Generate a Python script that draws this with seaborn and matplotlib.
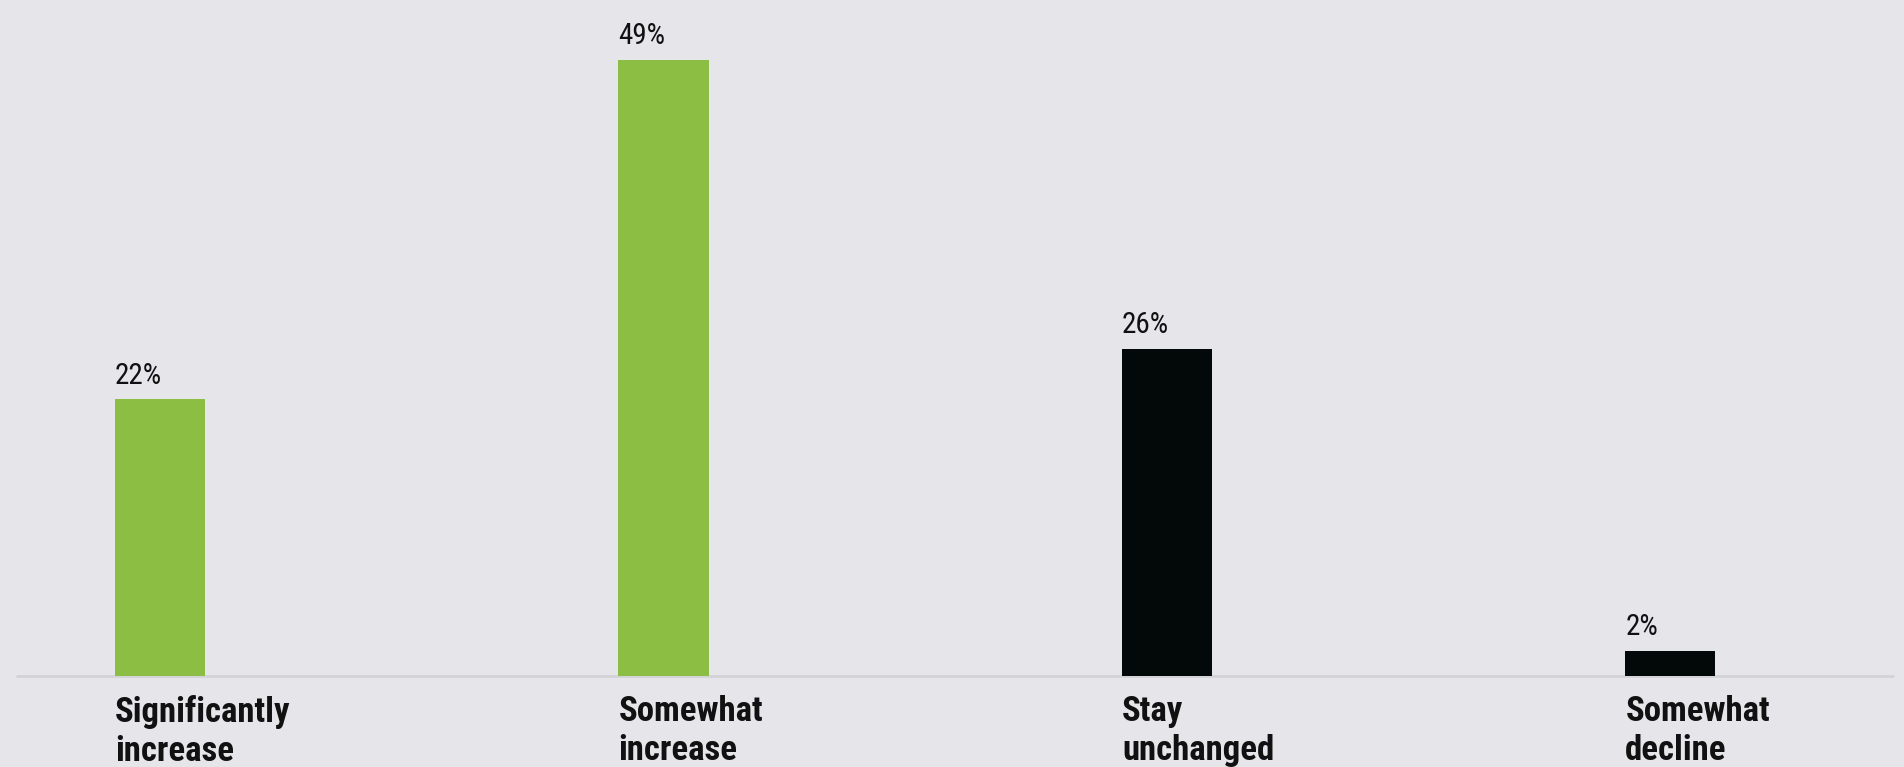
import matplotlib
matplotlib.use('Agg')
import matplotlib.pyplot as plt
from matplotlib import font_manager
import seaborn as sns
import pandas as pd

categories = ['Significantly\nincrease', 'Somewhat\nincrease', 'Stay\nunchanged', 'Somewhat\ndecline']
values = [22, 49, 26, 2]
bar_colors = ['#8bbe43', '#8bbe43', '#030808', '#030808']

BG = '#e6e5ea'

sns.set_theme(style='white')
names = {f.name for f in font_manager.fontManager.ttflist}
family = 'DejaVu Sans'
for cand in ['Roboto Condensed', 'Liberation Sans Narrow', 'Open Sans Condensed', 'DejaVu Sans']:
    if cand in names:
        family = cand
        break
plt.rcParams['font.family'] = [family, 'DejaVu Sans']

df = pd.DataFrame({'category': categories, 'value': values})

fig = plt.figure(figsize=(19.04, 7.67), dpi=100, facecolor=BG)
ax = fig.add_axes([0, 0, 1, 1])
ax.set_facecolor(BG)

sns.barplot(data=df, x='category', y='value', hue='category', palette=bar_colors,
            width=0.179, legend=False, ax=ax, saturation=1, linewidth=0)

ax.set_xlim(-0.318, 3.464)
ax.set_ylim(-7.23, 53.74)
ax.axhline(0, xmin=0.009, xmax=0.994, color='#d2d3d7', lw=2, zorder=0)

for i, (cat, val) in enumerate(zip(categories, values)):
    left = i - 0.179 / 2
    ax.annotate(f'{val}%', (left, val), xytext=(0, 7), textcoords='offset points',
                ha='left', va='bottom', fontsize=21, color='#111111',
                fontstretch='condensed')
    ax.annotate(cat, (left, 0), xytext=(0, -14), textcoords='offset points',
                ha='left', va='top', fontsize=25, fontweight='bold', color='#111111',
                fontstretch='condensed', linespacing=1.2)

ax.set_axis_off()
fig.savefig('out.png', dpi=100, facecolor=BG)
